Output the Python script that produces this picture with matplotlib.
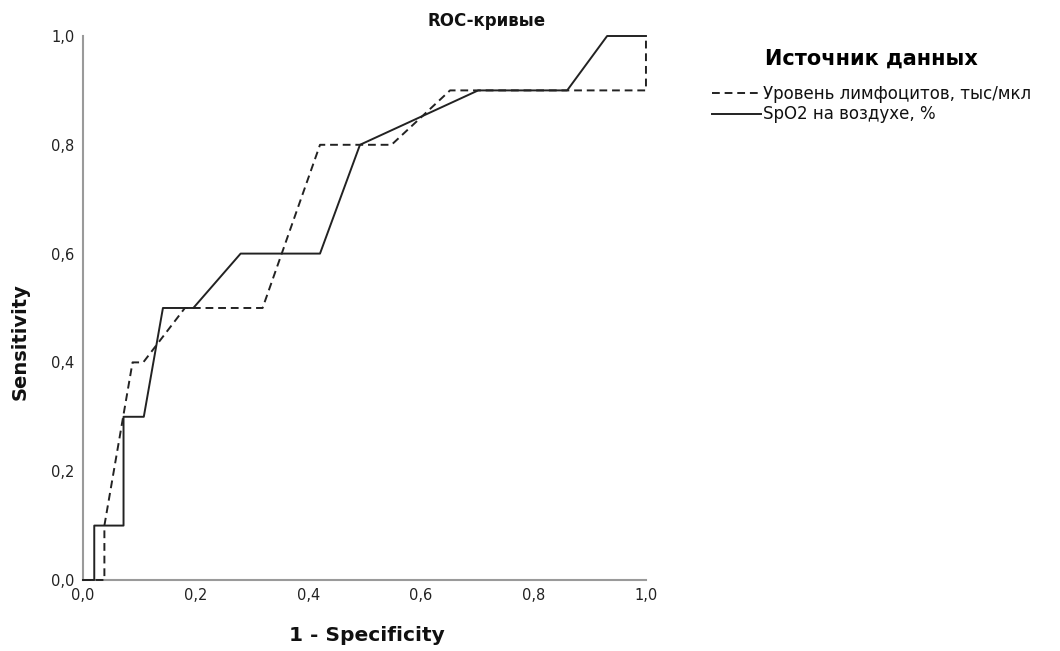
import matplotlib
matplotlib.use("Agg")
import matplotlib.pyplot as plt
from matplotlib.ticker import FuncFormatter

# ROC curve points (1 - specificity, sensitivity)
lymph_fpr = [0.0, 0.038, 0.038, 0.088, 0.107, 0.181, 0.319, 0.421, 0.548, 0.652, 1.0, 1.0]
lymph_tpr = [0.0, 0.0, 0.1, 0.4, 0.4, 0.5, 0.5, 0.8, 0.8, 0.9, 0.9, 1.0]

spo2_fpr = [0.0, 0.020, 0.020, 0.072, 0.072, 0.108, 0.142, 0.196, 0.280, 0.421, 0.492, 0.702, 0.860, 0.931, 1.0]
spo2_tpr = [0.0, 0.0, 0.1, 0.1, 0.3, 0.3, 0.5, 0.5, 0.6, 0.6, 0.8, 0.9, 0.9, 1.0, 1.0]

labels = ["Уровень лимфоцитов, тыс/мкл", "SpO2 на воздухе, %"]
ticks = [0.0, 0.2, 0.4, 0.6, 0.8, 1.0]

plt.rcParams['font.family'] = ['DejaVu Sans']

fig = plt.figure(figsize=(10.6, 6.51), dpi=100)
ax = fig.add_axes([0.0783, 0.1091, 0.5311, 0.8356])

ax.plot(lymph_fpr, lymph_tpr, color='#222222', lw=1.4, ls=(0, (4, 2.5)), label=labels[0],
        zorder=3, clip_on=False)
ax.plot(spo2_fpr, spo2_tpr, color='#222222', lw=1.4, ls='-', label=labels[1],
        zorder=3, clip_on=False)

ax.set_xlim(0, 1)
ax.set_ylim(0, 1)
ax.set_xticks(ticks)
ax.set_yticks(ticks)
fmt = FuncFormatter(lambda v, p: f"{v:.1f}".replace('.', ','))
ax.xaxis.set_major_formatter(fmt)
ax.yaxis.set_major_formatter(fmt)
ax.tick_params(length=0, labelsize=10.5, colors='#222222', pad=6)

for s in ['top', 'right']:
    ax.spines[s].set_visible(False)
for s in ['left', 'bottom']:
    ax.spines[s].set_color('#9a9a9a')
    ax.spines[s].set_linewidth(1.5)

fig.text(0.0189, 0.476, "Sensitivity", rotation=90, ha='center', va='center',
         fontsize=14, fontweight='bold', color='#111111')
fig.text(0.346, 0.024, "1 - Specificity", ha='center', va='center',
         fontsize=14.5, fontweight='bold', color='#111111')
fig.text(0.459, 0.968, "ROC-кривые", ha='center', va='center',
         fontsize=12, fontweight='bold', color='#111111')

leg = ax.legend(loc='upper left', bbox_to_anchor=(0.672, 0.926), bbox_transform=fig.transFigure,
                frameon=False, title="Источник данных", fontsize=12,
                title_fontproperties={'weight': 'bold', 'size': 15},
                handlelength=2.9, handletextpad=0.15, labelspacing=0.15, borderaxespad=0,
                borderpad=0)
leg._legend_box.sep = 12
for t in leg.get_texts():
    t.set_color('#111111')

fig.savefig("out.png", dpi=100)
